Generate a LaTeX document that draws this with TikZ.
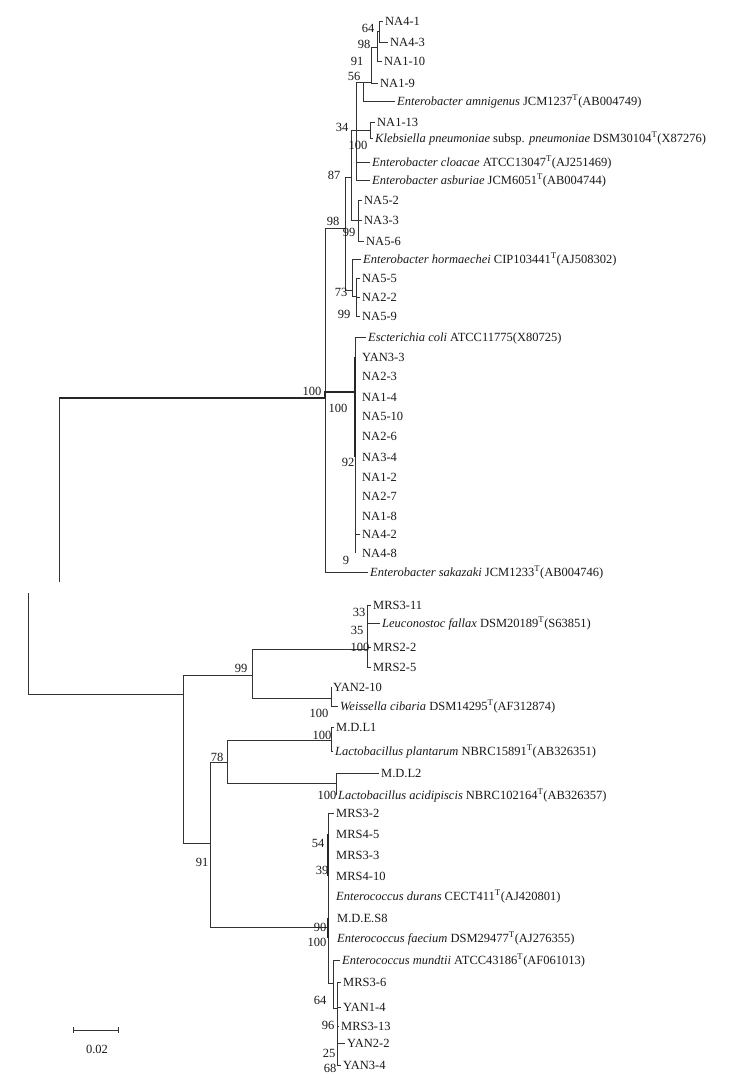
\documentclass[tikz,border=0pt]{standalone}
\usepackage{fontspec}
\setmainfont{Liberation Serif}
\usetikzlibrary{calc}
\newcommand{\strain}[2]{\textit{#1} #2}

\begin{document}
\begin{tikzpicture}[
    x=1pt, y=-1pt,
    font=\fontsize{12.5}{14}\selectfont,
    branch/.style={black!80, line width=0.8pt},
    trunk/.style={black!85, line width=1.7pt},
    leaf/.style={anchor=west, inner xsep=2pt, inner ysep=0pt, text height=8.5pt, text depth=0pt, text=black!90},
    boot/.style={inner sep=0pt, text height=8.5pt, text depth=0pt, text=black!90}
]
\useasboundingbox (0,0) rectangle (743,1085);
%
\begin{scope}
\coordinate (rootTcut) at (59,582);
\coordinate (rootT) at (59,398);
\coordinate (n100a) at (325,398);
\coordinate (n100b) at (355,392);
\coordinate (n98) at (345,228);
\coordinate (n87) at (351,177);
\coordinate (n34) at (356,130);
\coordinate (n56) at (363,82);
\coordinate (n91) at (371,82);
\coordinate (n98a) at (377,47);
\coordinate (n64) at (379,31);
\coordinate (n100k) at (370,130);
\coordinate (n99a) at (358,220);
\coordinate (nhorm) at (352,290);
\coordinate (n73) at (356,296);

\node[leaf] (na41) at (383,21) {NA4-1};
\node[leaf] (na43) at (388,42) {NA4-3};
\node[leaf] (na110) at (382,61) {NA1-10};
\node[leaf] (na19) at (378,83) {NA1-9};
\node[leaf] (amni) at (395,101) {\strain{Enterobacter amnigenus}{JCM1237\textsuperscript{T}(AB004749)}};
\node[leaf] (na113) at (375,122) {NA1-13};
\node[leaf] (kleb) at (373,138) {\strain{Klebsiella pneumoniae}{subsp. \textit{pneumoniae} DSM30104\textsuperscript{T}(X87276)}};
\node[leaf] (cloa) at (370,162) {\strain{Enterobacter cloacae}{ATCC13047\textsuperscript{T}(AJ251469)}};
\node[leaf] (asbu) at (370,180) {\strain{Enterobacter asburiae}{JCM6051\textsuperscript{T}(AB004744)}};
\node[leaf] (na52) at (362,200) {NA5-2};
\node[leaf] (na33) at (362,220) {NA3-3};
\node[leaf] (na56) at (364,241) {NA5-6};
\node[leaf] (horm) at (361,259) {\strain{Enterobacter hormaechei}{CIP103441\textsuperscript{T}(AJ508302)}};
\node[leaf] (na55) at (360,278) {NA5-5};
\node[leaf] (na22) at (360,297) {NA2-2};
\node[leaf] (na59) at (360,316) {NA5-9};
\node[leaf] (ecoli) at (366,337) {\strain{Escterichia coli}{ATCC11775(X80725)}};
\node[leaf] (yan33) at (360,357) {YAN3-3};
\node[leaf] (na23) at (360,376) {NA2-3};
\node[leaf] (na14) at (360,397) {NA1-4};
\node[leaf] (na510) at (360,416) {NA5-10};
\node[leaf] (na26) at (360,436) {NA2-6};
\node[leaf] (na34) at (360,457) {NA3-4};
\node[leaf] (na12) at (360,477) {NA1-2};
\node[leaf] (na27) at (360,496) {NA2-7};
\node[leaf] (na18) at (360,516) {NA1-8};
\node[leaf] (na42) at (360,534) {NA4-2};
\node[leaf] (na48) at (360,553) {NA4-8};
\node[leaf] (saka) at (368,572) {\strain{Enterobacter sakazaki}{JCM1233\textsuperscript{T}(AB004746)}};

\draw[branch] (rootTcut) -- (rootT);
\draw[trunk] (rootT) -- (n100a);
\draw[branch] (n100a) |- (n98);
\draw[trunk] (n100a) |- (n100b);
\draw[branch] (n100a) |- (saka.west);
\draw[branch] (n98) |- (n87);
\draw[branch] (n98) |- (nhorm);
\draw[branch] (n87) |- (n34);
\draw[branch] (n87) |- (n99a);
\draw[branch] (n34) |- (n56);
\draw[branch] (n34) -- (n100k);
\draw[branch] (n34) |- (cloa.west);
\draw[branch] (n34) |- (asbu.west);
\draw[branch] (n56) -- (n91);
\draw[branch] (n56) |- (amni.west);
\draw[branch] (n91) |- (n98a);
\draw[branch] (n91) |- (na19.west);
\draw[branch] (n98a) |- (n64);
\draw[branch] (n98a) |- (na110.west);
\draw[branch] (n64) |- (na41.west);
\draw[branch] (n64) |- (na43.west);
\draw[branch] (n100k) |- (na113.west);
\draw[branch] (n100k) |- (kleb.west);
\draw[branch] (n99a) |- (na52.west);
\draw[branch] (n99a) |- (na33.west);
\draw[branch] (n99a) |- (na56.west);
\draw[branch] (nhorm) |- (horm.west);
\draw[branch] (nhorm) |- (n73);
\draw[branch] (n73) |- (na55.west);
\draw[branch] (n73) |- (na22.west);
\draw[branch] (n73) |- (na59.west);
\draw[branch] (n100b) |- (ecoli.west);
\draw[trunk] (n100b |- yan33.west) -- (n100b |- na34.west);
\draw[branch] (n100b |- na34.west) -- (n100b |- na48.west);
\draw[branch] (n100b |- na42.west) -- (na42.west);

\node[boot] (b64) at (368,28) {64};
\node[boot] (b98a) at (364,44) {98};
\node[boot] (b91) at (357,61) {91};
\node[boot] (b56) at (354,76) {56};
\node[boot] (b34) at (342,127) {34};
\node[boot] (b100k) at (358,145) {100};
\node[boot] (b87) at (334,175) {87};
\node[boot] (b98) at (333,221) {98};
\node[boot] (b99a) at (349,232) {99};
\node[boot] (b73) at (341,292) {73};
\node[boot] (b99b) at (344,314) {99};
\node[boot] (b100a) at (312,391) {100};
\node[boot] (b100c) at (338,408) {100};
\node[boot] (b92) at (348,462) {92};
\node[boot] (b9) at (346,560) {9};
\end{scope}
%
\begin{scope}
\coordinate (rootBcut) at (28,593);
\coordinate (rootB) at (28,694);
\coordinate (n91b) at (183,694);
\coordinate (n99) at (252,675);
\coordinate (nleuc) at (367,649);
\coordinate (nweis) at (331,698);
\coordinate (n91c) at (210,843);
\coordinate (n78) at (227,762);
\coordinate (nplan) at (331,740);
\coordinate (nacid) at (336,783);
\coordinate (nente) at (328,927);
\coordinate (nmund) at (333,983);
\coordinate (n96) at (337,1008);

\node[leaf] (mrs311) at (371,605) {MRS3-11};
\node[leaf] (leuc) at (380,623) {\strain{Leuconostoc fallax}{DSM20189\textsuperscript{T}(S63851)}};
\node[leaf] (mrs22) at (371,647) {MRS2-2};
\node[leaf] (mrs25) at (371,667) {MRS2-5};
\node[leaf] (yan210) at (331,687) {YAN2-10};
\node[leaf] (weis) at (338,706) {\strain{Weissella cibaria}{DSM14295\textsuperscript{T}(AF312874)}};
\node[leaf] (mdl1) at (334,727) {M.D.L1};
\node[leaf] (plan) at (333,751) {\strain{Lactobacillus plantarum}{NBRC15891\textsuperscript{T}(AB326351)}};
\node[leaf] (mdl2) at (379,773) {M.D.L2};
\node[leaf] (acid) at (336,795) {\strain{Lactobacillus acidipiscis}{NBRC102164\textsuperscript{T}(AB326357)}};
\node[leaf] (mrs32) at (334,813) {MRS3-2};
\node[leaf] (mrs45) at (334,834) {MRS4-5};
\node[leaf] (mrs33) at (334,855) {MRS3-3};
\node[leaf] (mrs410) at (334,876) {MRS4-10};
\node[leaf] (dura) at (334,896) {\strain{Enterococcus durans}{CECT411\textsuperscript{T}(AJ420801)}};
\node[leaf] (mdes8) at (335,918) {M.D.E.S8};
\node[leaf] (faec) at (335,938) {\strain{Enterococcus faecium}{DSM29477\textsuperscript{T}(AJ276355)}};
\node[leaf] (mund) at (340,960) {\strain{Enterococcus mundtii}{ATCC43186\textsuperscript{T}(AF061013)}};
\node[leaf] (mrs36) at (341,982) {MRS3-6};
\node[leaf] (yan14) at (341,1007) {YAN1-4};
\node[leaf] (mrs313) at (339,1026) {MRS3-13};
\node[leaf] (yan22) at (345,1043) {YAN2-2};
\node[leaf] (yan34) at (341,1065) {YAN3-4};

\draw[branch] (rootBcut) -- (rootB) -- (n91b);
\draw[branch] (n91b) |- (n99);
\draw[branch] (n91b) |- (n91c);
\draw[branch] (n99) |- (nleuc);
\draw[branch] (n99) |- (nweis);
\draw[branch] (nleuc) |- (mrs311.west);
\draw[branch] (nleuc) |- (leuc.west);
\draw[branch] (nleuc) |- (mrs22.west);
\draw[branch] (nleuc) |- (mrs25.west);
\draw[branch] (nweis) |- (yan210.west);
\draw[branch] (nweis) |- (weis.west);
\draw[branch] (n91c) |- (n78);
\draw[branch] (n91c) |- (nente);
\draw[branch] (n78) |- (nplan);
\draw[branch] (n78) |- (nacid);
\draw[branch] (nplan) |- (mdl1.west);
\draw[branch] (nplan) |- (plan.west);
\draw[branch] (nacid) |- (mdl2.west);
\draw[branch] (nacid) |- (acid.west);
\draw[branch] (nente) |- (mrs32.west);
\draw[branch] (nente) |- (nmund);
\draw[trunk] (nente |- mrs45.west) -- (nente |- mrs410.west);
\draw[trunk] (nente |- mdes8.west) -- (nente |- faec.west);
\draw[branch] (nmund) |- (mund.west);
\draw[branch] (nmund) |- (n96);
\draw[branch] (n96) |- (mrs36.west);
\draw[branch] (n96) |- (yan14.west);
\draw[branch] (n96) |- (mrs313.west);
\draw[branch] (n96) |- (yan22.west);
\draw[branch] (n96) |- (yan34.west);

\node[boot] (b33) at (359,612) {33};
\node[boot] (b35) at (357,630) {35};
\node[boot] (b100l) at (360,647) {100};
\node[boot] (b99) at (241,668) {99};
\node[boot] (b100w) at (319,713) {100};
\node[boot] (b100p) at (322,735) {100};
\node[boot] (b78) at (217,757) {78};
\node[boot] (b100d) at (327,795) {100};
\node[boot] (b54) at (318,843) {54};
\node[boot] (b39) at (322,870) {39};
\node[boot] (b91b) at (202,862) {91};
\node[boot] (b90) at (320,927) {90};
\node[boot] (b100e) at (317,942) {100};
\node[boot] (b64b) at (320,1000) {64};
\node[boot] (b96) at (328,1025) {96};
\node[boot] (b25) at (329,1053) {25};
\node[boot] (b68) at (330,1068) {68};

\coordinate (scaleL) at (73,1030);
\coordinate (scaleR) at (118,1030);
\draw[branch] (scaleL) -- (scaleR);
\draw[branch] ($(scaleL)+(0,-3)$) -- ($(scaleL)+(0,3)$);
\draw[branch] ($(scaleR)+(0,-3)$) -- ($(scaleR)+(0,3)$);
\node[boot] (scalelab) at (97,1049) {0.02};
\end{scope}
\end{tikzpicture}
\end{document}
